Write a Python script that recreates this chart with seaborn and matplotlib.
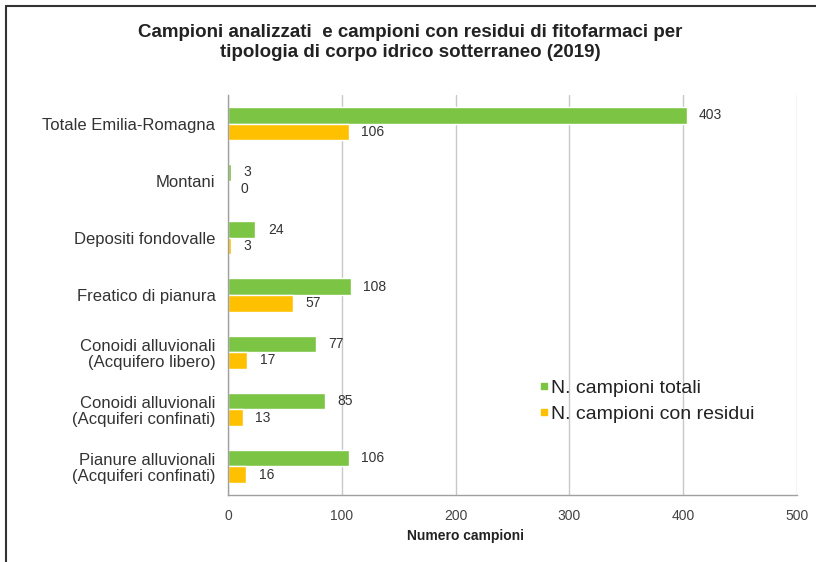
import matplotlib
matplotlib.use("Agg")
import matplotlib.pyplot as plt
import seaborn as sns
import pandas as pd
from matplotlib.lines import Line2D

categories = [
    "Totale Emilia-Romagna",
    "Montani",
    "Depositi fondovalle",
    "Freatico di pianura",
    "Conoidi alluvionali\n(Acquifero libero)",
    "Conoidi alluvionali\n(Acquiferi confinati)",
    "Pianure alluvionali\n(Acquiferi confinati)",
]
totali = [403, 3, 24, 108, 77, 85, 106]
con_residui = [106, 0, 3, 57, 17, 13, 16]
series_names = ["N. campioni totali", "N. campioni con residui"]
colors = ["#7cc443", "#ffc000"]
x_ticks = [0, 100, 200, 300, 400, 500]

df = pd.DataFrame({
    "categoria": categories * 2,
    "valore": totali + con_residui,
    "serie": [series_names[0]] * len(categories) + [series_names[1]] * len(categories),
})

sns.set_theme(style="white")
plt.rcParams["font.family"] = ["Liberation Sans", "DejaVu Sans"]

fig = plt.figure(figsize=(8.16, 5.62), dpi=100)
ax = fig.add_axes([0.2794, 0.1192, 0.6973, 0.7118])

sns.barplot(data=df, y="categoria", x="valore", hue="serie", order=categories,
            hue_order=series_names, palette=colors, width=0.58, orient="h",
            saturation=1, legend=False, ax=ax)

for container in ax.containers:
    ax.bar_label(container, fmt="%d", padding=9, fontsize=10, color="#333333")

ax.set_xlim(0, 500)
ax.set_xticks(x_ticks)
ax.set_xticklabels([str(t) for t in x_ticks], fontsize=10, color="#444444")
ax.tick_params(axis="y", labelsize=12, labelcolor="#333333", length=0, pad=9)
ax.tick_params(axis="x", length=4, color="#a0a0a0", direction="out", pad=6)
ax.set_yticks(range(len(categories)))
ax.set_yticklabels(categories, ha="right", linespacing=1.1)
ax.set_yticks([i + 0.5 for i in range(-1, len(categories))], minor=True)
ax.tick_params(axis="y", which="minor", length=4, color="#a0a0a0", direction="out")
ax.set_ylim(len(categories) - 0.5, -0.5)

ax.xaxis.grid(True, color="#c8c8c8", linewidth=1)
ax.set_axisbelow(True)
for side in ["top", "right"]:
    ax.spines[side].set_visible(False)
for side in ["left", "bottom"]:
    ax.spines[side].set_color("#a0a0a0")
    ax.spines[side].set_linewidth(1)

ax.set_ylabel("")
ax.set_xlabel("Numero campioni", fontsize=10, fontweight="bold", color="#222222", labelpad=4)
ax.xaxis.set_label_coords(0.418, -0.085)

fig.suptitle("Campioni analizzati  e campioni con residui di fitofarmaci per\n"
             "tipologia di corpo idrico sotterraneo (2019)",
             x=0.503, y=0.957, fontsize=13.5, fontweight="bold", color="#222222",
             linespacing=1.2)

handles = [Line2D([], [], marker="s", linestyle="", markersize=5,
                  markerfacecolor=c, markeredgecolor=c) for c in colors]
ax.legend(handles, series_names, loc="center left", bbox_to_anchor=(0.512, 0.235),
          frameon=False, fontsize=14, handletextpad=0.05, handlelength=0.7,
          labelspacing=0.4, labelcolor="#222222")

# Outer frame along the top and left edges
fig.add_artist(Line2D([0.0074, 1.0], [0.989, 0.989], transform=fig.transFigure,
                      color="#333333", linewidth=1.5))
fig.add_artist(Line2D([0.0074, 0.0074], [0.0, 0.989], transform=fig.transFigure,
                      color="#333333", linewidth=1.5))

fig.savefig("out.png", dpi=100)
